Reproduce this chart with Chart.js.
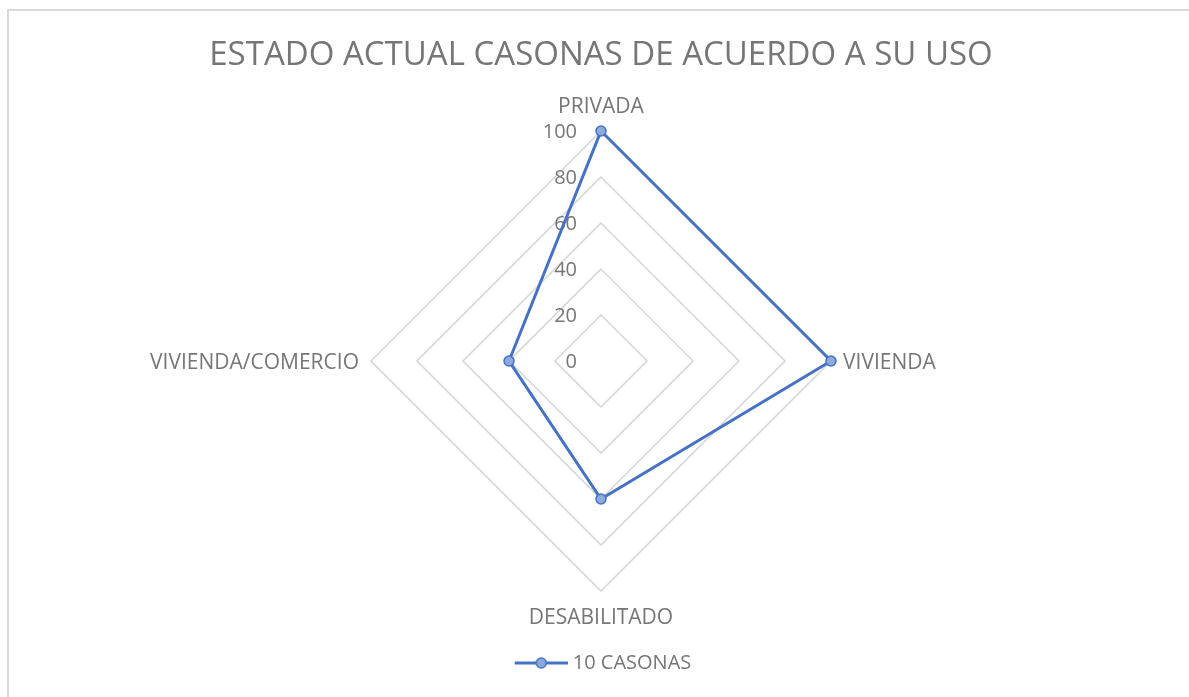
<!DOCTYPE html>
<html lang="es">
<head>
<meta charset="UTF-8">
<title>Estado actual casonas de acuerdo a su uso</title>
<style>
  html, body { margin: 0; padding: 0; background: #fff; overflow: hidden; }
  #wrap { position: relative; width: 1189px; height: 697px; }
  #frame { position: absolute; left: 7px; top: 9px; width: 1300px; height: 800px; border: 2px solid #d9d9d9; box-sizing: border-box; }
  #chart { position: absolute; left: 0; top: 0; }
</style>
</head>
<body>
<div id="wrap">
  <div id="frame"></div>
  <canvas id="chart" width="1189" height="697"></canvas>
</div>

<script src="https://cdn.jsdelivr.net/npm/chart.js"></script>
<script>
  const categories = ['PRIVADA', 'VIVIENDA', 'DESABILITADO', 'VIVIENDA/COMERCIO'];
  const casonas = [100, 100, 60, 40];
  const tickValues = [0, 20, 40, 60, 80, 100];

  const blue = '#4472C4';
  const markerFill = '#8EA9DB';
  const textColor = '#767676';
  const fontFamily = '"Open Sans", sans-serif';

  // legend marker: line with a circle on it
  const marker = document.createElement('canvas');
  marker.width = 62;
  marker.height = 14;
  const mctx = marker.getContext('2d');
  mctx.strokeStyle = blue;
  mctx.lineWidth = 3;
  mctx.beginPath();
  mctx.moveTo(9, 7);
  mctx.lineTo(62, 7);
  mctx.stroke();
  mctx.beginPath();
  mctx.arc(35.5, 7, 5, 0, Math.PI * 2);
  mctx.fillStyle = markerFill;
  mctx.fill();
  mctx.lineWidth = 1.5;
  mctx.stroke();

  // tick labels left of the vertical axis and category labels round the web
  const radarText = {
    id: 'radarText',
    beforeDatasetsDraw(chart) {
      const r = chart.scales.r;
      const ctx = chart.ctx;
      ctx.save();
      ctx.fillStyle = textColor;
      ctx.textBaseline = 'alphabetic';

      ctx.font = '20px ' + fontFamily;
      ctx.textAlign = 'right';
      tickValues.forEach(v => {
        const p = r.getPointPositionForValue(0, v);
        ctx.fillText(String(v), p.x - 24, p.y + 7);
      });

      ctx.font = '21px ' + fontFamily;
      categories.forEach((c, i) => {
        const p = r.getPointPosition(i, r.drawingArea);
        if (i === 0) {
          ctx.textAlign = 'center';
          ctx.fillText(c, p.x, p.y - 18);
        } else if (i === 1) {
          ctx.textAlign = 'left';
          ctx.fillText(c, p.x + 12, p.y + 7.5);
        } else if (i === 2) {
          ctx.textAlign = 'center';
          ctx.fillText(c, p.x, p.y + 33);
        } else {
          ctx.textAlign = 'right';
          ctx.fillText(c, p.x - 12, p.y + 7.5);
        }
      });
      ctx.restore();
    }
  };

  new Chart(document.getElementById('chart'), {
    type: 'radar',
    data: {
      labels: categories,
      datasets: [{
        label: '10 CASONAS',
        data: casonas,
        borderColor: blue,
        borderWidth: 3,
        fill: false,
        pointRadius: 5,
        pointHoverRadius: 5,
        pointBackgroundColor: markerFill,
        pointBorderColor: blue,
        pointBorderWidth: 1.5
      }]
    },
    options: {
      responsive: false,
      animation: false,
      layout: { padding: { left: 13, right: 0, top: 0, bottom: 14 } },
      scales: {
        r: {
          min: 0,
          max: 100,
          ticks: { stepSize: 20, display: false },
          grid: { color: '#d9d9d9', lineWidth: 1.75 },
          angleLines: { display: false },
          pointLabels: { display: false }
        }
      },
      plugins: {
        title: {
          display: true,
          text: 'ESTADO ACTUAL CASONAS DE ACUERDO A SU USO',
          color: textColor,
          font: { family: fontFamily, size: 33, weight: 'normal' },
          padding: { top: 36, bottom: 55 }
        },
        legend: {
          position: 'bottom',
          labels: {
            color: textColor,
            font: { family: fontFamily, size: 20 },
            usePointStyle: true,
            pointStyleWidth: 52,
            padding: 61,
            generateLabels(chart) {
              return chart.data.datasets.map((ds, i) => ({
                text: ds.label,
                pointStyle: marker,
                fillStyle: markerFill,
                strokeStyle: blue,
                fontColor: textColor,
                lineWidth: 0,
                hidden: false,
                datasetIndex: i
              }));
            }
          }
        },
        tooltip: { enabled: false }
      }
    },
    plugins: [radarText]
  });
</script>
</body>
</html>
